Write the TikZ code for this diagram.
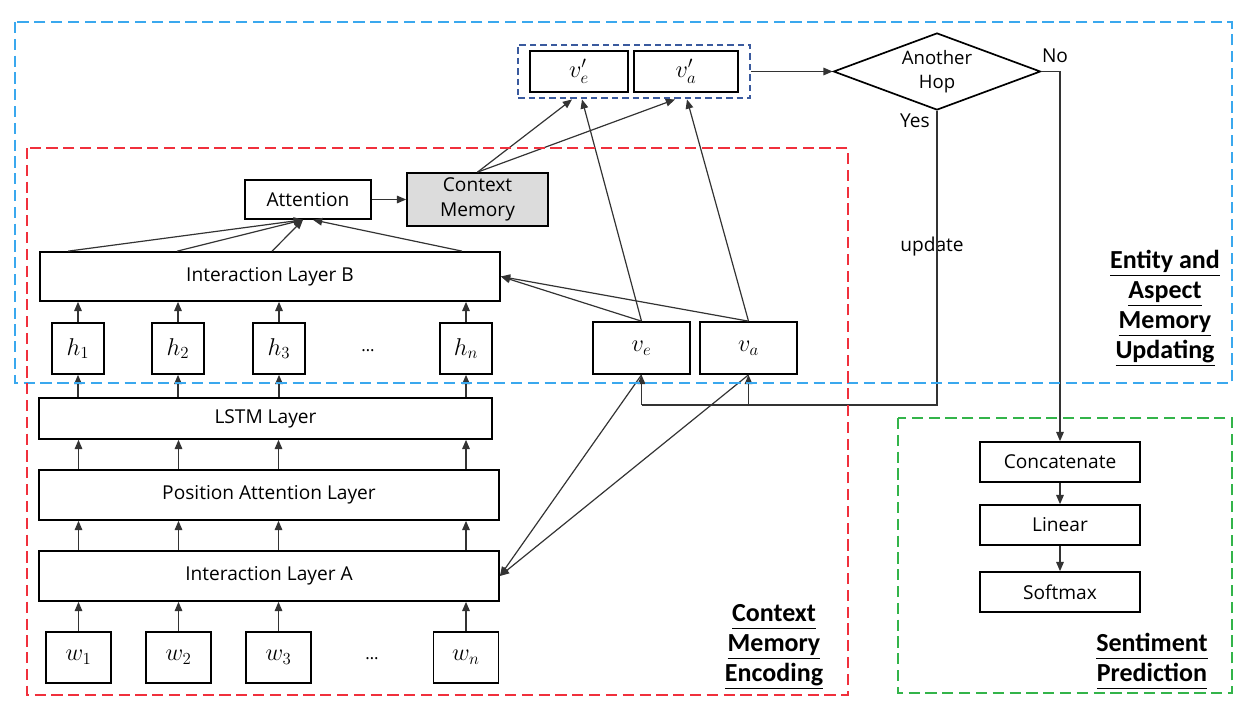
\documentclass[tikz,border=0pt]{standalone}
\usepackage{fontspec}
\setmainfont{Open Sans}
\newfontfamily\headfont{Carlito}
\usetikzlibrary{arrows.meta,calc,fit,positioning,shapes.geometric}

\definecolor{updblue}{HTML}{3AA8EE}
\definecolor{encred}{HTML}{F0303C}
\definecolor{predgreen}{HTML}{33B44A}
\definecolor{grpnavy}{HTML}{3A5A9E}
\definecolor{memgray}{HTML}{DCDCDC}

\newcommand{\regionul}[1]{\underline{\vphantom{gy}#1}}

\tikzset{
    amn diagram/.style = {x=0.025cm, y=-0.025cm,
                          >={Triangle[length=2.3mm, width=1.9mm]}},
    line/.style        = {line width=0.85pt, draw=black!80},
    box/.style         = {draw, line width=1.2pt, fill=white, inner sep=0pt,
                          align=center,
                          font=\fontsize{13.6}{18}\selectfont},
    layer/.style       = {box, minimum width=115mm, minimum height=12.5mm},
    wbox/.style        = {box, minimum width=16.25mm, minimum height=12.75mm,
                          font=\fontsize{17}{20}\selectfont},
    hbox/.style        = {box, minimum width=13mm, minimum height=12.75mm,
                          font=\fontsize{17}{20}\selectfont},
    vbox/.style        = {box, minimum width=24.25mm, minimum height=13mm,
                          font=\fontsize{17}{20}\selectfont},
    pbox/.style        = {box, minimum width=40mm, minimum height=10mm},
    hop/.style         = {draw, line width=1.2pt, fill=white, diamond,
                          aspect=2.7, inner sep=0pt, align=center,
                          minimum width=51.75mm, minimum height=19.25mm,
                          font=\fontsize{13.2}{17}\selectfont},
    note/.style        = {inner sep=1pt, font=\fontsize{13.6}{16}\selectfont},
    dots/.style        = {inner sep=0pt, font=\fontsize{12}{14}\selectfont},
    region/.style      = {inner sep=0pt, align=center,
                          font=\headfont\bfseries\fontsize{18.5}{21.3}\selectfont},
    enclosure/.style   = {line width=1.8pt,
                          dash pattern=on 2.8mm off 1.4mm},
    group/.style       = {draw=grpnavy, line width=1.4pt,
                          dash pattern=on 1.6mm off 1mm}
}

\begin{document}
\begin{tikzpicture}[amn diagram]
\useasboundingbox (0,0) rectangle (1248,710);

% ================= Encoder stack (left column) =================
\foreach \i/\x in {1/78.5,2/178.5,3/278.5,n/466}
    \node[wbox] (w\i) at (\x,657.5) {$w_{\i}$};
\node[dots] (wdots) at (372,659) {\ldots};

\node[layer] (ila) at (269,576) {Interaction Layer A};
\node[layer] (pal) at (269,495) {Position Attention Layer};
\node[layer, minimum width=113.25mm, minimum height=10.25mm]
    (lstm) at (265.5,418.5) {LSTM Layer};

\foreach \i/\x in {1/78,2/178,3/279,n/466}
    \node[hbox] (h\i) at (\x,348.5) {$h_{\i}$};
\node[dots] (hdots) at (368,351) {\ldots};

\node[layer, minimum height=12.25mm] (ilb) at (270,276.5) {Interaction Layer B};

% one arrow per word position between the layers
\foreach \i in {1,2,3,n} {
    \draw[->, line] (w\i.north) -- (w\i.north |- ila.south);
    \draw[->, line] (w\i.north |- ila.north) -- (w\i.north |- pal.south);
    \draw[->, line] (w\i.north |- pal.north) -- (w\i.north |- lstm.south);
    \draw[->, line] (h\i.south |- lstm.north) -- (h\i.south);
    \draw[->, line] (h\i.north) -- (h\i.north |- ilb.south);
}

% ================= Attention over the hidden states =================
\node[box, minimum width=31.5mm, minimum height=9.75mm]
    (att) at (308,199.5) {Attention};
\node[box, fill=memgray, minimum width=35.25mm, minimum height=13.25mm]
    (mem) at (477.5,199.5) {Context\\Memory};

\foreach \dx in {29,138,233}
    \draw[->, line] ($(ilb.north west)+(\dx,0)$) -- ($(att.south)+(-5,0)$);
\draw[->, line] ($(ilb.north west)+(423,0)$) -- ($(att.south)+(5,0)$);
\draw[->, line] (att) -- (mem);

% ================= Entity and aspect memories =================
\node[vbox] (ve) at (641.5,348) {$v_e$};
\node[vbox] (va) at (748.5,348) {$v_a$};

\node[vbox, minimum width=24.5mm, minimum height=10.25mm]
    (vep) at (579,71.5) {$v'_e$};
\node[vbox, minimum width=26mm, minimum height=10.25mm]
    (vap) at (686,71.5) {$v'_a$};
\node[group, fit=(vep)(vap), inner xsep=2.75mm, inner ysep=1.4mm] (vgrp) {};

\draw[->, line] (ve.north) -- (ilb.east);
\draw[->, line] (va.north) -- (ilb.east);
\draw[->, line] (ve.south) -- (ila.east);
\draw[->, line] (va.south) -- (ila.east);

\draw[->, line] (mem.north) -- ($(vep.south |- vgrp.south)+(-7,0)$);
\draw[->, line] (ve.north)  -- ($(vep.south |- vgrp.south)+(3,0)$);
\draw[->, line] (mem.north) -- ($(vap.south |- vgrp.south)+(-11,0)$);
\draw[->, line] (va.north)  -- ($(vap.south |- vgrp.south)+(1,0)$);

% ================= Hop decision =================
\node[hop] (hop) at (937,71.5) {Another\\Hop};
\draw[->, line] (vgrp.east) -- (hop.west);

\node[note] (yes) at (915,121) {Yes};
\node[note] (no)  at (1055,56) {No};
\node[note] (upd) at (932,247) {update};

% Yes: feed the updated memories back to v_e and v_a
\coordinate (back) at (937,405);
\draw[line] (hop.south) -- (back) -- (back -| ve.south);
\draw[->, line] (back -| ve.south) -- (ve.south);
\draw[->, line] (back -| va.south) -- (va.south);

% ================= Sentiment prediction =================
\node[pbox] (concat)  at (1060,462) {Concatenate};
\node[pbox] (linear)  at (1060,525) {Linear};
\node[pbox] (softmax) at (1060,592) {Softmax};

\draw[->, line] (hop.east) -| (concat.north);
\draw[->, line] (concat) -- (linear);
\draw[->, line] (linear) -- (softmax);

% ================= Module enclosures =================
\draw[enclosure, draw=updblue]   (15,22)   rectangle (1232,383);
\draw[enclosure, draw=encred]    (27,148)  rectangle (848,695);
\draw[enclosure, draw=predgreen] (898,418) rectangle (1232,693);

\node[region] (updlbl)  at (1165,308)
    {\regionul{Entity and}\\\regionul{Aspect}\\\regionul{Memory}\\\regionul{Updating}};
\node[region] (enclbl)  at (774,647)
    {\regionul{Context}\\\regionul{Memory}\\\regionul{Encoding}};
\node[region] (predlbl) at (1152,661)
    {\regionul{Sentiment}\\\regionul{Prediction}};

\end{tikzpicture}
\end{document}
